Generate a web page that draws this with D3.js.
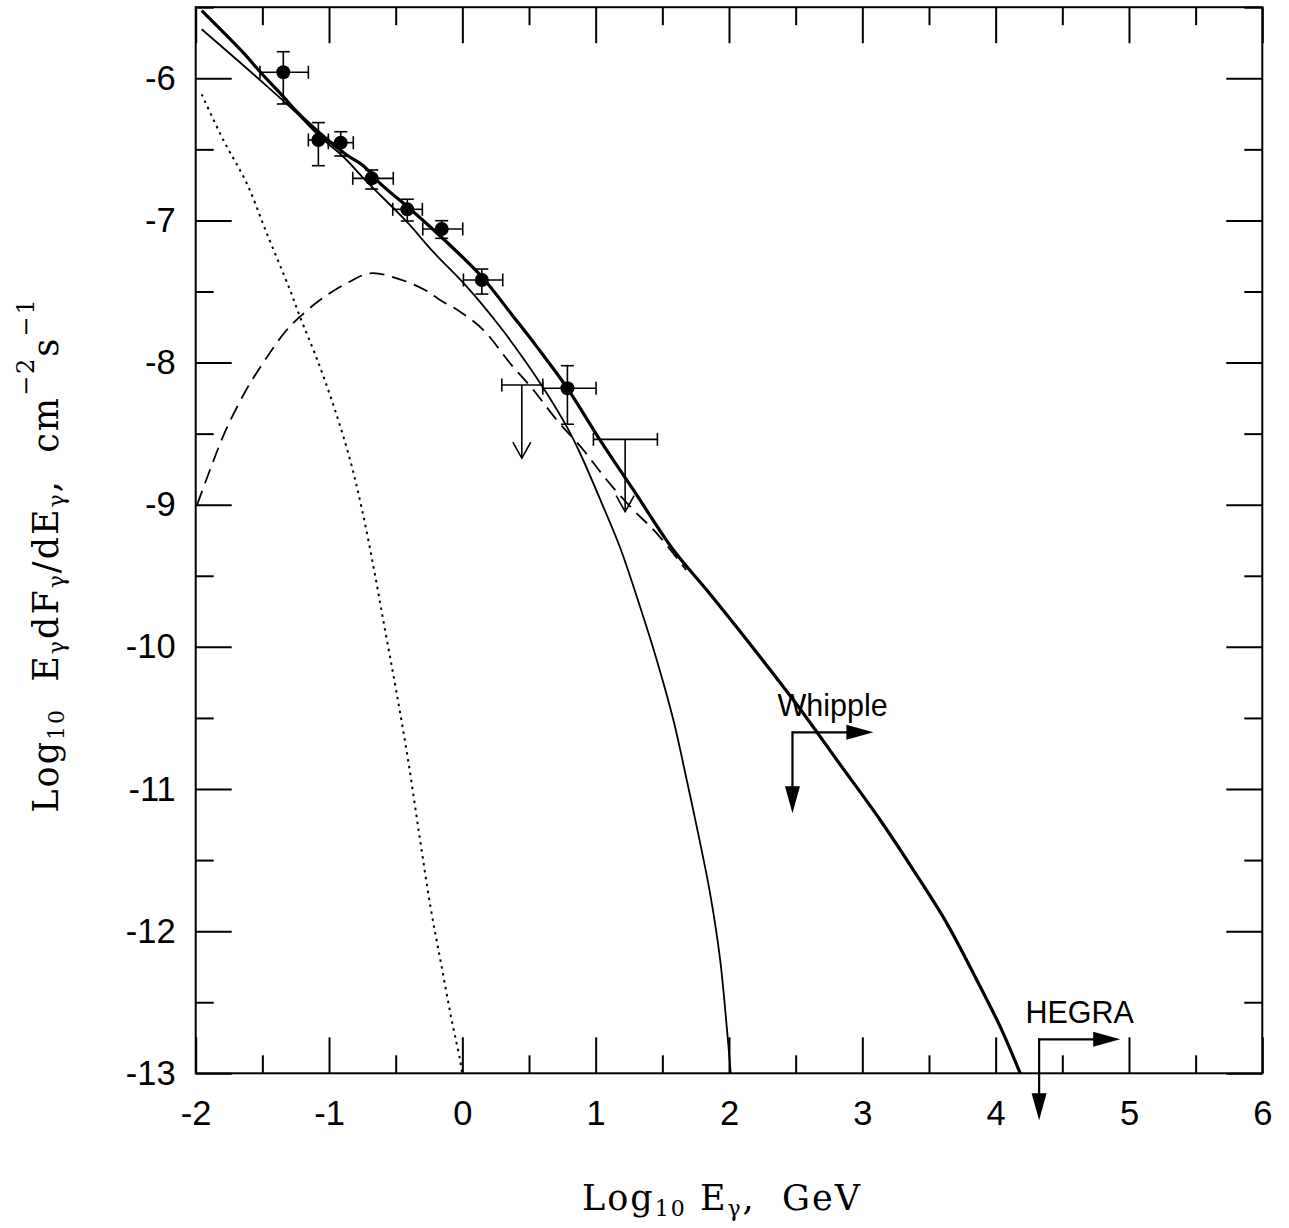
<!DOCTYPE html>
<html>
<head>
<meta charset="utf-8">
<script src="https://cdn.jsdelivr.net/npm/d3@7"></script>
<style>
  html, body { margin: 0; padding: 0; background: #fff; }
  svg { display: block; }
</style>
</head>
<body>
<svg id="chart" width="1289" height="1228"></svg>
<script>
// ---------------- DATA ----------------
const xTickValues = [-2, -1, 0, 1, 2, 3, 4, 5, 6];
const xTickLabels = ["-2", "-1", "0", "1", "2", "3", "4", "5", "6"];
const xMinorTicks = [-1.5, -0.5, 0.5, 1.5, 2.5, 3.5, 4.5, 5.5];
const yTickValues = [-13, -12, -11, -10, -9, -8, -7, -6];
const yTickLabels = ["-13", "-12", "-11", "-10", "-9", "-8", "-7", "-6"];
const yMinorTicks = [-12.5, -11.5, -10.5, -9.5, -8.5, -7.5, -6.5, -5.5];

// data points with error bars
const ptX   = [-1.343, -1.080, -0.912, -0.680, -0.413, -0.155, 0.146, 0.788];
const ptY   = [-5.958, -6.434, -6.453, -6.704, -6.922, -7.060, -7.419, -8.181];
const ptXlo = [-1.518, -1.155, -1.005, -0.822, -0.522, -0.297, 0.008, 0.603];
const ptXhi = [-1.155, -1.005, -0.818, -0.518, -0.300, 0.003, 0.303, 1.003];
const ptYlo = [-6.181, -6.615, -6.547, -6.779, -7.004, -7.126, -7.518, -8.434];
const ptYhi = [-5.813, -6.312, -6.376, -6.645, -6.851, -7.002, -7.342, -8.022];

// Upper limits
const ulX    = [0.446, 1.221];
const ulXlo  = [0.296, 0.983];
const ulXhi  = [0.603, 1.463];
const ulY    = [-8.158, -8.540];
const ulYtip = [-8.673, -9.049];

// Total spectrum (thick solid)
const totalX = [-1.955, -1.643, -1.518, -1.343, -1.242, -1.068, -0.867, -0.743, -0.617, -0.368, -0.068, 0.146, 0.383, 0.558, 0.788, 1.033, 1.283, 1.583, 1.833, 2.134, 2.521, 2.809, 3.134, 3.383, 3.634, 3.833, 4.034, 4.184];
const totalY = [-5.524, -5.820, -5.954, -6.129, -6.235, -6.387, -6.540, -6.615, -6.739, -6.939, -7.196, -7.396, -7.677, -7.888, -8.181, -8.545, -8.896, -9.319, -9.600, -9.952, -10.421, -10.796, -11.218, -11.570, -11.945, -12.297, -12.672, -13.000];

// Thin solid component
const thinX = [-1.955, -1.518, -1.255, -1.068, -0.893, -0.717, -0.417, -0.218, 0.033, 0.283, 0.483, 0.633, 0.783, 0.883, 1.046, 1.183, 1.333, 1.458, 1.583, 1.683, 1.758, 1.858, 1.933, 1.983, 2.013];
const thinY = [-5.655, -6.012, -6.235, -6.411, -6.552, -6.727, -7.009, -7.222, -7.466, -7.748, -8.005, -8.216, -8.451, -8.638, -8.990, -9.301, -9.718, -10.092, -10.515, -10.937, -11.265, -11.734, -12.196, -12.672, -13.000];

// Dashed component
const dashX = [-1.990, -1.893, -1.780, -1.630, -1.480, -1.330, -1.230, -1.068, -0.867, -0.692, -0.492, -0.280, -0.167, -0.017, 0.158, 0.358, 0.533, 0.708, 0.908, 1.083, 1.283, 1.458, 1.678];
const dashY = [-9.001, -8.756, -8.488, -8.207, -7.982, -7.785, -7.688, -7.560, -7.442, -7.372, -7.407, -7.489, -7.560, -7.642, -7.771, -8.005, -8.193, -8.404, -8.615, -8.826, -9.037, -9.201, -9.459];

// Dotted component
const dotX = [-1.955, -1.793, -1.617, -1.467, -1.293, -1.218, -1.082, -0.955, -0.842, -0.752, -0.662, -0.580, -0.497, -0.407, -0.317, -0.235, -0.160, -0.080, -0.017, -0.002];
const dotY = [-6.113, -6.434, -6.739, -7.090, -7.489, -7.677, -7.996, -8.334, -8.685, -9.037, -9.459, -9.881, -10.303, -10.796, -11.359, -11.851, -12.226, -12.625, -12.906, -12.998];

// Whipple and HEGRA limit markers
const markNames  = ["Whipple", "HEGRA"];
const markX      = [2.476, 4.326];
const markY      = [-10.601, -12.761];
const markXend   = [3.083, 4.934];
const markYend   = [-11.171, -13.331];
const markLabelX = [2.777, 4.630];
const markLabelY = [-10.488, -12.648];

// ---------------- CHART ----------------
const svg = d3.select("#chart");
const x = d3.scaleLinear().domain([-2, 6]).range([195.7, 1262.3]);
const y = d3.scaleLinear().domain([-13, -5.5]).range([1073.3, 7.2]);
const tickFont = "'Liberation Sans', Arial, Helvetica, sans-serif";
const serif = "'DejaVu Serif', serif";

function styleAxis(g) {
  g.select(".domain").remove();
  g.selectAll(".tick line").attr("stroke", "#000").attr("stroke-width", 2);
}

// bottom
svg.append("g").attr("transform", `translate(0,${y(-13)})`)
  .call(d3.axisBottom(x).tickValues(xTickValues).tickSize(-36).tickPadding(27)
        .tickFormat((d, i) => xTickLabels[i]))
  .call(styleAxis)
  .call(g => g.selectAll("text").attr("font-family", tickFont).attr("font-size", 34.5).attr("fill", "#000"));
svg.append("g").attr("transform", `translate(0,${y(-13)})`)
  .call(d3.axisBottom(x).tickValues(xMinorTicks).tickSize(-18).tickFormat(""))
  .call(styleAxis);
// top
svg.append("g").attr("transform", `translate(0,${y(-5.5)})`)
  .call(d3.axisTop(x).tickValues(xTickValues).tickSize(-36).tickFormat(""))
  .call(styleAxis);
svg.append("g").attr("transform", `translate(0,${y(-5.5)})`)
  .call(d3.axisTop(x).tickValues(xMinorTicks).tickSize(-18).tickFormat(""))
  .call(styleAxis);
// left
svg.append("g").attr("transform", `translate(${x(-2)},0)`)
  .call(d3.axisLeft(y).tickValues(yTickValues).tickSize(-36).tickPadding(20)
        .tickFormat((d, i) => yTickLabels[i]))
  .call(styleAxis)
  .call(g => g.selectAll("text").attr("font-family", tickFont).attr("font-size", 34.5).attr("fill", "#000"));
svg.append("g").attr("transform", `translate(${x(-2)},0)`)
  .call(d3.axisLeft(y).tickValues(yMinorTicks).tickSize(-18).tickFormat(""))
  .call(styleAxis);
// right
svg.append("g").attr("transform", `translate(${x(6)},0)`)
  .call(d3.axisRight(y).tickValues(yTickValues).tickSize(-36).tickFormat(""))
  .call(styleAxis);
svg.append("g").attr("transform", `translate(${x(6)},0)`)
  .call(d3.axisRight(y).tickValues(yMinorTicks).tickSize(-18).tickFormat(""))
  .call(styleAxis);

// frame
svg.append("rect")
  .attr("x", x(-2)).attr("y", y(-5.5))
  .attr("width", x(6) - x(-2)).attr("height", y(-13) - y(-5.5))
  .attr("fill", "none").attr("stroke", "#000").attr("stroke-width", 2);

// curves
const line = d3.line().x(d => x(d[0])).y(d => y(d[1])).curve(d3.curveCatmullRom.alpha(0.5));
const zip = (a, b) => a.map((v, i) => [v, b[i]]);

svg.append("path").attr("d", line(zip(dotX, dotY)))
  .attr("fill", "none").attr("stroke", "#000").attr("stroke-width", 2)
  .attr("stroke-dasharray", "2.5,4.5");
svg.append("path").attr("d", line(zip(dashX, dashY)))
  .attr("fill", "none").attr("stroke", "#000").attr("stroke-width", 1.8)
  .attr("stroke-dasharray", "15,8");
svg.append("path").attr("d", line(zip(thinX, thinY)))
  .attr("fill", "none").attr("stroke", "#000").attr("stroke-width", 1.8);
svg.append("path").attr("d", line(zip(totalX, totalY)))
  .attr("fill", "none").attr("stroke", "#000").attr("stroke-width", 3.2);

// data points with error bars
const cap = 6.5;
const eb = svg.append("g").attr("stroke", "#000").attr("stroke-width", 1.6);
ptX.forEach((px, i) => {
  const cx = x(px), cy = y(ptY[i]);
  const x0 = x(ptXlo[i]), x1 = x(ptXhi[i]);
  const y0 = y(ptYlo[i]), y1 = y(ptYhi[i]);
  eb.append("line").attr("x1", x0).attr("x2", x1).attr("y1", cy).attr("y2", cy);
  eb.append("line").attr("x1", x0).attr("x2", x0).attr("y1", cy - cap).attr("y2", cy + cap);
  eb.append("line").attr("x1", x1).attr("x2", x1).attr("y1", cy - cap).attr("y2", cy + cap);
  eb.append("line").attr("x1", cx).attr("x2", cx).attr("y1", y0).attr("y2", y1);
  eb.append("line").attr("x1", cx - cap).attr("x2", cx + cap).attr("y1", y0).attr("y2", y0);
  eb.append("line").attr("x1", cx - cap).attr("x2", cx + cap).attr("y1", y1).attr("y2", y1);
});
svg.append("g").selectAll("circle").data(ptX).join("circle")
  .attr("cx", d => x(d)).attr("cy", (d, i) => y(ptY[i])).attr("r", 7).attr("fill", "#000");

// upper limits
const ul = svg.append("g").attr("stroke", "#000").attr("stroke-width", 1.6).attr("fill", "none");
ulX.forEach((ux, i) => {
  const cx = x(ux), cy = y(ulY[i]), x0 = x(ulXlo[i]), x1 = x(ulXhi[i]), ty = y(ulYtip[i]);
  ul.append("line").attr("x1", x0).attr("x2", x1).attr("y1", cy).attr("y2", cy);
  ul.append("line").attr("x1", x0).attr("x2", x0).attr("y1", cy - cap).attr("y2", cy + cap);
  ul.append("line").attr("x1", x1).attr("x2", x1).attr("y1", cy - cap).attr("y2", cy + cap);
  ul.append("line").attr("x1", cx).attr("x2", cx).attr("y1", cy).attr("y2", ty);
  ul.append("polyline").attr("points", `${cx - 9},${ty - 16} ${cx},${ty} ${cx + 9},${ty - 16}`);
});

// Whipple / HEGRA markers
const headL = 27, headW = 7.5;
markNames.forEach((name, i) => {
  const cx = x(markX[i]), cy = y(markY[i]), hx = x(markXend[i]), vy = y(markYend[i]);
  const g = svg.append("g");
  g.append("line").attr("x1", cx).attr("x2", hx - headL + 2).attr("y1", cy).attr("y2", cy)
    .attr("stroke", "#000").attr("stroke-width", 2.2);
  g.append("line").attr("x1", cx).attr("x2", cx).attr("y1", cy - 1.1).attr("y2", vy - headL + 2)
    .attr("stroke", "#000").attr("stroke-width", 2.2);
  g.append("path").attr("d", `M${hx},${cy} L${hx - headL},${cy - headW} L${hx - headL},${cy + headW} Z`).attr("fill", "#000");
  g.append("path").attr("d", `M${cx},${vy} L${cx - headW},${vy - headL} L${cx + headW},${vy - headL} Z`).attr("fill", "#000");
  g.append("text").attr("x", x(markLabelX[i])).attr("y", y(markLabelY[i]))
    .attr("text-anchor", "middle").attr("font-family", tickFont).attr("font-size", 30.5)
    .attr("fill", "#000").text(name);
});

// axis titles
const xt = svg.append("text").attr("x", 722).attr("y", 1210).attr("text-anchor", "middle")
  .attr("font-family", serif).attr("font-size", 35).attr("letter-spacing", 2).attr("fill", "#000");
xt.append("tspan").text("Log");
xt.append("tspan").attr("font-size", 22).attr("dy", 6).text("10");
xt.append("tspan").attr("dy", -6).text("\u00A0E");
xt.append("tspan").attr("font-size", 22).attr("dy", 6).text("γ");
xt.append("tspan").attr("dy", -6).text(",\u00A0\u00A0GeV");

const yt = svg.append("text").attr("transform", "translate(58,555) rotate(-90)").attr("text-anchor", "middle")
  .attr("font-family", serif).attr("font-size", 35).attr("letter-spacing", 2).attr("fill", "#000");
yt.append("tspan").text("Log");
yt.append("tspan").attr("font-size", 22).attr("dy", 6).text("10");
yt.append("tspan").attr("dy", -6).text("\u00A0\u00A0E");
yt.append("tspan").attr("font-size", 22).attr("dy", 6).text("γ");
yt.append("tspan").attr("dy", -6).text("dF");
yt.append("tspan").attr("font-size", 22).attr("dy", 6).text("γ");
yt.append("tspan").attr("dy", -6).text("/dE");
yt.append("tspan").attr("font-size", 22).attr("dy", 6).text("γ");
yt.append("tspan").attr("dy", -6).text(",\u00A0\u00A0cm");
yt.append("tspan").attr("font-size", 24).attr("dy", -24).text("−2");
yt.append("tspan").attr("dy", 24).text("s");
yt.append("tspan").attr("font-size", 24).attr("dy", -24).text("−1");
</script>
</body>
</html>
